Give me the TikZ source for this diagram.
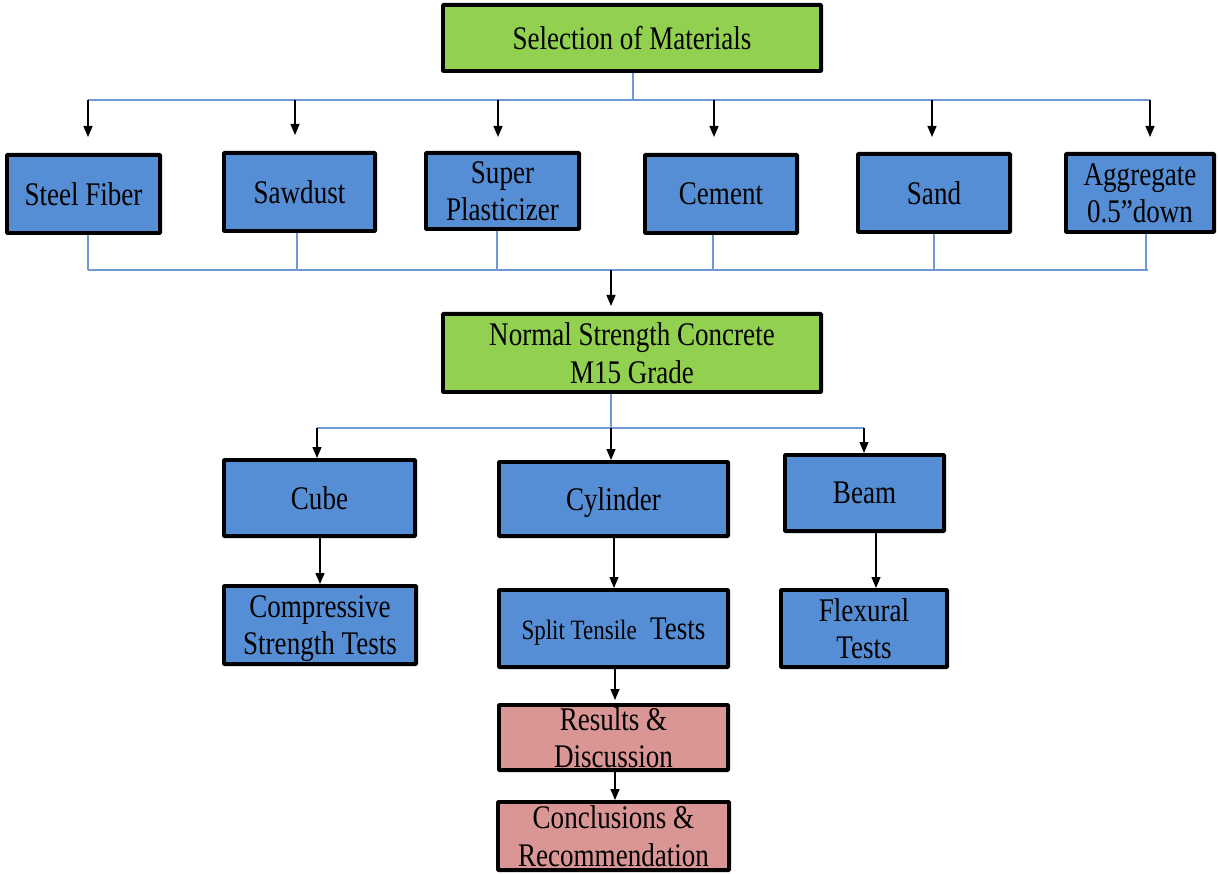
\documentclass[tikz,border=0pt]{standalone}
\usepackage{fontspec}
\setmainfont{Liberation Serif}[FakeStretch=0.82]
\usetikzlibrary{arrows.meta,calc}
\definecolor{boxblue}{HTML}{558ED5}
\definecolor{boxgreen}{HTML}{92D050}
\definecolor{boxpink}{HTML}{D99694}
\definecolor{linkblue}{HTML}{6E99D2}
\begin{document}
\begin{tikzpicture}[x=1pt,y=-1pt,
  box/.style={draw=black, line width=3.8pt, rectangle, rounded corners=0.8pt, align=center, inner sep=0pt, text depth=0pt, font=\fontsize{33}{37.5}\selectfont},
  bluebox/.style={box, fill=boxblue},
  greenbox/.style={box, fill=boxgreen},
  pinkbox/.style={box, fill=boxpink},
  link/.style={draw=linkblue, line width=1.6pt},
  arr/.style={draw=black, line width=1.3pt, -{Triangle[length=11pt,width=9pt]}},
]
\useasboundingbox (0,0) rectangle (1218,874);

% nodes
\node[greenbox, minimum width=378.2, minimum height=66.2] (sel) at (632,38) {Selection of Materials};
\node[bluebox, minimum width=153.2, minimum height=78.2] (sf) at (83.5,194) {Steel Fiber};
\node[bluebox, minimum width=151.2, minimum height=78.2] (sd) at (299.5,192) {Sawdust};
\node[bluebox, minimum width=153.2, minimum height=76.2] (sp) at (502.5,191) {Super\\Plasticizer};
\node[bluebox, minimum width=152.2, minimum height=78.2] (ce) at (721,194) {Cement};
\node[bluebox, minimum width=152.2, minimum height=78.2] (sa) at (934,193) {Sand};
\node[bluebox, minimum width=148.2, minimum height=78.2] (ag) at (1140,193) {Aggregate\\0.5”down};
\node[greenbox, minimum width=378.2, minimum height=78.2] (nsc) at (632,353) {Normal Strength Concrete\\M15 Grade};
\node[bluebox, minimum width=191.2, minimum height=76.2] (cube) at (319.5,498) {Cube};
\node[bluebox, minimum width=229.2, minimum height=74.2] (cyl) at (613.5,499) {Cylinder};
\node[bluebox, minimum width=159.2, minimum height=76.2] (beam) at (864.5,493) {Beam};
\node[bluebox, minimum width=192.2, minimum height=78.2] (comp) at (320,625) {Compressive\\Strength Tests};
\node[bluebox, minimum width=229.2, minimum height=77.2] (split) at (613.5,628.5) {{\fontsize{28}{33}\selectfont Split Tensile}\ \ Tests};
\node[bluebox, minimum width=166.2, minimum height=77.2] (flex) at (864,628.5) {Flexural\\Tests};
\node[pinkbox, minimum width=229.2, minimum height=65.2] (res) at (613.5,737.5) {Results \&\\Discussion};
\node[pinkbox, minimum width=231.2, minimum height=68.2] (conc) at (613.5,836) {Conclusions \&\\Recommendation};

% top distribution
\coordinate (selb) at (633,100);
\coordinate (t1) at (88,100);
\coordinate (t2) at (295,100);
\coordinate (t3) at (498,100);
\coordinate (t4) at (714,100);
\coordinate (t5) at (932,100);
\coordinate (t6) at (1150,100);
\draw[link] (sel.south -| selb) -- (selb);
\draw[link] (t1) -- (t6);
\draw[arr, shorten >=16pt] (t1) -- (sf.north -| t1);
\draw[arr, shorten >=16pt] (t2) -- (sd.north -| t2);
\draw[arr, shorten >=14pt] (t3) -- (sp.north -| t3);
\draw[arr, shorten >=16pt] (t4) -- (ce.north -| t4);
\draw[arr, shorten >=15pt] (t5) -- (sa.north -| t5);
\draw[arr, shorten >=15pt] (t6) -- (ag.north -| t6);

% bottom collection
\coordinate (b1) at (88,270);
\coordinate (b2) at (297,270);
\coordinate (b3) at (497,270);
\coordinate (b4) at (713,270);
\coordinate (b5) at (934,270);
\coordinate (b6) at (1146,270);
\coordinate (bend) at (1148,270);
\coordinate (mid) at (611,270);
\draw[link] (b1) -- (bend);
\draw[link] (sf.south -| b1) -- (b1);
\draw[link] (sd.south -| b2) -- (b2);
\draw[link] (sp.south -| b3) -- (b3);
\draw[link] (ce.south -| b4) -- (b4);
\draw[link] (sa.south -| b5) -- (b5);
\draw[link] (ag.south -| b6) -- (b6);
\draw[arr, shorten >=6pt] (mid) -- (nsc.north -| mid);

% specimens
\coordinate (ns) at (611,428);
\coordinate (cl) at (317,428);
\coordinate (cr) at (864,428);
\draw[link] (nsc.south -| ns) -- (ns);
\draw[link] (cl) -- (cr);
\draw[arr] (cl) -- (cube.north -| cl);
\draw[arr] (ns) -- (cyl.north -| ns);
\draw[arr] (cr) -- (beam.north -| cr);

% tests
\coordinate (x1) at (320,0);
\coordinate (x2) at (614,0);
\coordinate (x3) at (876,0);
\coordinate (x4) at (615,0);
\draw[arr] (cube.south -| x1) -- (comp.north -| x1);
\draw[arr] (cyl.south -| x2) -- (split.north -| x2);
\draw[arr] (beam.south -| x3) -- (flex.north -| x3);
\draw[arr, shorten >=3pt] (split.south -| x4) -- (res.north -| x4);
\draw[arr] (res.south -| x4) -- (conc.north -| x4);
\end{tikzpicture}
\end{document}
